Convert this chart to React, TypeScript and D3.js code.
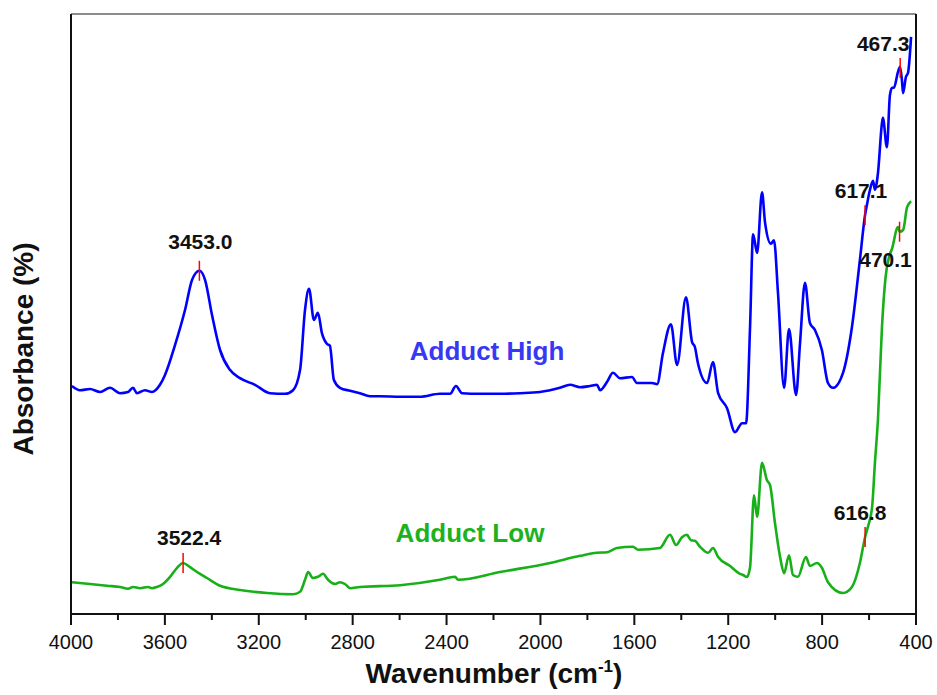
import React from "react";
import * as d3 from "d3";

// ---- Data ----
const highWavenumbers = [3996,3962,3919,3876,3834,3791,3757,3736,3719,3685,3655,3621,3600,3557,3514,3484,3453,3429,3399,3365,3323,3280,3216,3152,3088,3054,3024,3003,2986,2965,2948,2931,2909,2897,2880,2854,2811,2769,2726,2684,2598,2513,2428,2385,2360,2334,2258,2172,2087,2002,1917,1874,1831,1789,1759,1746,1716,1691,1661,1610,1589,1525,1503,1478,1444,1418,1380,1354,1342,1329,1290,1265,1243,1205,1171,1141,1124,1107,1094,1077,1056,1043,1018,1005,988,962,941,911,894,873,852,830,801,775,754,711,673,639,617,609,596,583,575,562,545,541,524,511,502,494,477,468,460,455,443,434,421];
const highAbsorbance = [38.0,37.3,37.5,37.0,37.7,36.8,37.0,37.7,36.8,37.3,37.0,38.2,39.8,44.8,50.7,55.7,57.2,55.7,49.8,44.0,40.7,39.3,38.2,36.8,36.7,37.3,40.7,50.7,54.2,49.0,50.2,46.8,45.0,44.7,39.0,37.7,37.2,36.8,36.3,36.3,36.2,36.2,36.7,36.7,38.0,36.8,36.7,36.7,36.8,37.0,37.7,38.2,37.8,38.0,38.2,37.3,38.7,40.2,39.3,39.5,38.5,38.5,38.3,43.5,48.3,41.5,52.8,45.3,44.5,41.8,38.5,42.0,36.8,34.3,30.3,31.8,31.8,47.8,63.3,60.2,70.3,65.2,61.7,62.3,53.5,37.7,47.5,36.5,45.2,55.2,48.5,47.3,44.0,38.5,37.7,40.2,47.8,59.0,66.5,68.2,70.7,72.2,70.7,73.5,81.8,82.7,77.8,86.5,87.7,87.7,90.3,91.2,89.0,86.8,89.5,90.2,96.2];

const lowWavenumbers = [3996,3919,3847,3791,3757,3736,3706,3672,3655,3634,3608,3578,3548,3523,3493,3463,3421,3365,3280,3165,3054,3024,3003,2990,2969,2948,2926,2905,2875,2854,2833,2811,2769,2598,2428,2364,2351,2172,1959,1831,1759,1716,1674,1606,1584,1491,1448,1422,1397,1376,1359,1342,1320,1286,1265,1243,1192,1150,1137,1120,1107,1090,1077,1056,1035,1022,1001,979,962,941,924,903,869,852,822,801,775,711,673,639,617,605,587,575,562,545,530,515,502,477,470,455,438,421];
const lowAbsorbance = [5.3,5.0,4.7,4.5,4.2,4.5,4.3,4.5,4.3,4.5,5.0,6.2,7.7,8.5,7.8,7.0,6.0,4.7,4.0,3.5,3.3,3.7,5.7,7.0,6.0,6.2,6.7,5.7,5.0,5.3,5.0,4.3,4.5,4.8,5.7,6.2,5.7,7.0,8.5,9.7,10.2,10.3,11.0,11.2,10.7,11.0,13.2,11.5,12.8,13.2,12.3,12.2,11.2,10.2,11.0,9.5,8.0,6.7,6.5,6.2,7.8,19.8,16.2,25.2,22.3,21.5,15.2,9.5,6.8,9.8,6.5,6.2,9.5,8.0,8.5,7.7,5.3,3.5,4.5,8.5,12.8,14.5,17.8,25.2,32.5,47.8,56.0,59.5,60.9,64.5,63.7,64.0,67.8,68.8];

const seriesNames = ["Adduct High", "Adduct Low"];

const peakSeries = [0, 0, 0, 1, 1, 1];
const peakWavenumbers = [3453.0, 617.1, 467.3, 3522.4, 616.8, 470.1];
const peakLabels = ["3453.0", "617.1", "467.3", "3522.4", "616.8", "470.1"];

const xTicks = [4000, 3600, 3200, 2800, 2400, 2000, 1600, 1200, 800, 400];
const xMinorTicks = [3800, 3400, 3000, 2600, 2200, 1800, 1400, 1000, 600];

// ---- Layout / style ----
const W = 937;
const H = 695;
const left = 71, right = 916, top = 14, bottom = 614;
const colors = ["#0000ff", "#18b018"];
const labelColors = ["#3838f4", "#1db21d"];
const peakLabelOffsets = [
  [1, -22], [-4, -17], [-17, -17], [6, -18], [-5, -17], [-14, 35],
];
const seriesLabelPos = [
  [487, 360], [470, 542],
];
const FONT = "'Liberation Sans', Arial, Helvetica, sans-serif";

function valueAt(ws: number[], vs: number[], w: number) {
  for (let i = 0; i < ws.length - 1; i++) {
    if (ws[i] >= w && ws[i + 1] <= w) {
      const t = (ws[i] - w) / (ws[i] - ws[i + 1]);
      return vs[i] + t * (vs[i + 1] - vs[i]);
    }
  }
  return vs[vs.length - 1];
}

export default function App() {
  const x = d3.scaleLinear().domain([4000, 400]).range([left, right]);
  const y = d3.scaleLinear().domain([0, 100]).range([bottom, top]);

  const series = [
    { ws: highWavenumbers, vs: highAbsorbance },
    { ws: lowWavenumbers, vs: lowAbsorbance },
  ];

  const line = d3
    .line<[number, number]>()
    .x((d) => x(d[0]))
    .y((d) => y(d[1]))
    .curve(d3.curveMonotoneX);

  return (
    <svg
      width={W}
      height={H}
      style={{ position: "absolute", left: 0, top: 0, background: "#fff" }}
      fontFamily={FONT}
    >
      <rect x={0} y={0} width={W} height={H} fill="#ffffff" />
      {/* label background box */}
      <rect x={395} y={327} width={205} height={46} fill="#ffffff" />

      {/* series lines */}
      {series.map((s, i) => (
        <path
          key={i}
          d={line(s.ws.map((w, k) => [w, s.vs[k]] as [number, number])) || ""}
          fill="none"
          stroke={colors[i]}
          strokeWidth={2.6}
          strokeLinejoin="round"
        />
      ))}

      {/* peak markers */}
      {peakWavenumbers.map((w, i) => {
        const s = series[peakSeries[i]];
        const px = x(w);
        const py = y(valueAt(s.ws, s.vs, w));
        const [dx, dy] = peakLabelOffsets[i];
        return (
          <g key={i}>
            <line x1={px} x2={px} y1={py - 10} y2={py + 10} stroke="#ff0000" strokeWidth={1.5} />
            <text
              x={px + dx}
              y={py + dy}
              textAnchor="middle"
              fontSize={21}
              fontWeight="bold"
              fill="#111"
            >
              {peakLabels[i]}
            </text>
          </g>
        );
      })}

      {/* series labels */}
      {seriesNames.map((n, i) => (
        <text
          key={n}
          x={seriesLabelPos[i][0]}
          y={seriesLabelPos[i][1]}
          textAnchor="middle"
          fontSize={26}
          fontWeight="bold"
          fill={labelColors[i]}
        >
          {n}
        </text>
      ))}

      {/* frame */}
      <line x1={left} x2={right} y1={top} y2={top} stroke="#666" strokeWidth={1.5} />
      <line x1={right} x2={right} y1={top} y2={bottom} stroke="#111" strokeWidth={2} />
      <line x1={left} x2={left} y1={top} y2={bottom + 1} stroke="#111" strokeWidth={2} />
      <line x1={left - 1} x2={right + 1} y1={bottom} y2={bottom} stroke="#111" strokeWidth={2} />

      {/* x ticks */}
      {xTicks.map((t) => (
        <g key={t}>
          <line x1={x(t)} x2={x(t)} y1={bottom} y2={bottom + 11} stroke="#111" strokeWidth={2} />
          <text x={x(t)} y={649} textAnchor="middle" fontSize={20} fill="#111">
            {t}
          </text>
        </g>
      ))}
      {xMinorTicks.map((t) => (
        <line key={t} x1={x(t)} x2={x(t)} y1={bottom} y2={bottom + 6} stroke="#111" strokeWidth={2} />
      ))}

      {/* axis titles */}
      <text x={494} y={683} textAnchor="middle" fontSize={28} fontWeight="bold" fill="#111">
        Wavenumber (cm
        <tspan fontSize={17} dy={-11}>-1</tspan>
        <tspan dy={11}>)</tspan>
      </text>
      <text
        transform={`translate(33, 349) rotate(-90)`}
        textAnchor="middle"
        fontSize={28}
        fontWeight="bold"
        fill="#111"
      >
        Absorbance (%)
      </text>
    </svg>
  );
}
